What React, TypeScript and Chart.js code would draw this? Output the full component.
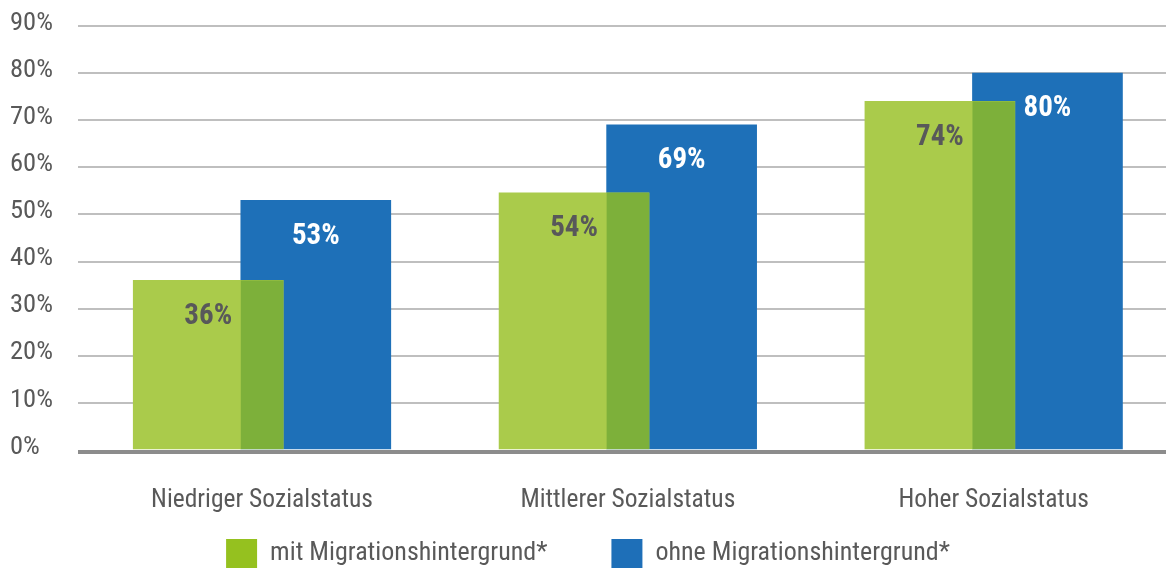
import React, { useEffect, useRef } from 'react';
import { Chart, registerables } from 'chart.js';

Chart.register(...registerables);

// ---- data ----
const categories = ['Niedriger Sozialstatus', 'Mittlerer Sozialstatus', 'Hoher Sozialstatus'];
const seriesNames = ['mit Migrationshintergrund*', 'ohne Migrationshintergrund*'];
const mitMigration = [36, 54.6, 74];
const ohneMigration = [53, 69, 80];

// ---- styles ----
const FAMILY = "Roboto, 'Liberation Sans', sans-serif";
const COND = 'condensed';
const GREEN = '#aacb4b';
const GREEN_OVERLAP = '#7db03a';
const BLUE = '#1e70b8';
const LEGEND_GREEN = '#95c11f';
const LEGEND_BLUE = '#1e6fb8';
const TEXT = '#595959';
const BAR_SHIFT = 0.147;

const overlapPlugin = {
  id: 'overlapAndLabels',
  afterDatasetsDraw(chart: any) {
    const ctx = chart.ctx;
    const area = chart.chartArea;
    const g = chart.getDatasetMeta(0).data;
    const b = chart.getDatasetMeta(1).data;
    ctx.save();
    g.forEach((gb: any, i: number) => {
      const bb = b[i];
      if (!bb) return;
      const gp = gb.getProps(['x', 'y', 'base', 'width'], true);
      const bp = bb.getProps(['x', 'y', 'base', 'width'], true);
      const l = Math.max(gp.x - gp.width / 2, bp.x - bp.width / 2);
      const r = Math.min(gp.x + gp.width / 2, bp.x + bp.width / 2);
      const t = Math.max(Math.min(gp.y, gp.base), Math.min(bp.y, bp.base));
      const bt = Math.min(Math.max(gp.y, gp.base), Math.max(bp.y, bp.base));
      if (r > l && bt > t) {
        ctx.fillStyle = GREEN_OVERLAP;
        ctx.fillRect(l, t, r - l, bt - t);
      }
    });
    // zero line
    const y0 = chart.scales.y.getPixelForValue(0);
    ctx.fillStyle = '#8c8c8c';
    ctx.fillRect(area.left, y0, area.right - area.left, 4);
    // value labels
    ctx.font = `${COND} bold 29px ${FAMILY}`;
    ctx.textAlign = 'center';
    ctx.textBaseline = 'middle';
    const groups: [any[], number[], string][] = [
      [g, mitMigration, '#58585a'],
      [b, ohneMigration, '#ffffff'],
    ];
    groups.forEach(([els, vals, color]) => {
      els.forEach((el: any, i: number) => {
        const p = el.getProps(['x', 'y'], true);
        ctx.fillStyle = color;
        ctx.fillText(`${Math.trunc(vals[i])}%`, p.x, p.y + 36);
      });
    });
    ctx.restore();
  },
};

export default function App() {
  const ref = useRef<HTMLCanvasElement | null>(null);
  useEffect(() => {
    if (!ref.current) return;
    Chart.defaults.font.family = FAMILY;
    const chart = new Chart(ref.current, {
      type: 'bar',
      data: {
        datasets: [
          {
            label: seriesNames[0],
            data: mitMigration.map((v, i) => ({ x: i - BAR_SHIFT, y: v })),
            backgroundColor: GREEN,
            borderWidth: 0,
            barThickness: 150,
            grouped: false,
          },
          {
            label: seriesNames[1],
            data: ohneMigration.map((v, i) => ({ x: i + BAR_SHIFT, y: v })),
            backgroundColor: BLUE,
            borderWidth: 0,
            barThickness: 150,
            grouped: false,
          },
        ],
      },
      options: {
        animation: false,
        responsive: false,
        layout: { padding: { left: 10, top: 26, right: 0, bottom: 0 } },
        scales: {
          x: {
            type: 'linear',
            offset: false,
            min: -0.503,
            max: 2.471,
            grid: { display: false },
            border: { display: false },
            ticks: {
              stepSize: 1,
              includeBounds: false,
              autoSkip: false,
              maxRotation: 0,
              minRotation: 0,
              padding: 27,
              color: TEXT,
              font: { size: 25.5, weight: COND, family: FAMILY },
              callback: (v: any) => (Number.isInteger(v) && categories[v] !== undefined ? categories[v] : ''),
            },
            afterFit: (s: any) => {
              s.height = 25;
              // let the category labels extend below the axis box
              s._computeLabelArea = () => undefined;
            },
          },
          y: {
            min: 0,
            max: 90,
            border: { display: false },
            grid: {
              color: (c: any) => (c.tick && c.tick.value === 0 ? 'rgba(0,0,0,0)' : '#bfbfbf'),
              lineWidth: 2,
              drawTicks: false,
            },
            ticks: {
              stepSize: 10,
              crossAlign: 'far',
              padding: 0,
              labelOffset: -3,
              color: TEXT,
              font: { size: 26.5, weight: COND, family: FAMILY },
              callback: (v: any) => `${v}%`,
            },
            afterFit: (s: any) => {
              s.width = 68;
            },
          },
        },
        plugins: {
          tooltip: { enabled: false },
          legend: {
            position: 'bottom',
            maxHeight: 94,
            labels: {
              boxWidth: 31,
              boxHeight: 29,
              padding: 64,
              color: TEXT,
              font: { size: 26, weight: COND, family: FAMILY },
              generateLabels: () =>
                seriesNames.map((name, i) => ({
                  text: name,
                  fillStyle: i === 0 ? LEGEND_GREEN : LEGEND_BLUE,
                  strokeStyle: 'rgba(0,0,0,0)',
                  lineWidth: 0,
                  fontColor: TEXT,
                  hidden: false,
                  datasetIndex: i,
                })),
            },
          },
        },
      },
      plugins: [overlapPlugin],
    } as any);
    return () => chart.destroy();
  }, []);
  return (
    <div style={{ position: 'fixed', left: 0, top: 0, width: 1166, height: 569, background: '#fff' }}>
      <canvas ref={ref} width={1166} height={569} />
    </div>
  );
}
